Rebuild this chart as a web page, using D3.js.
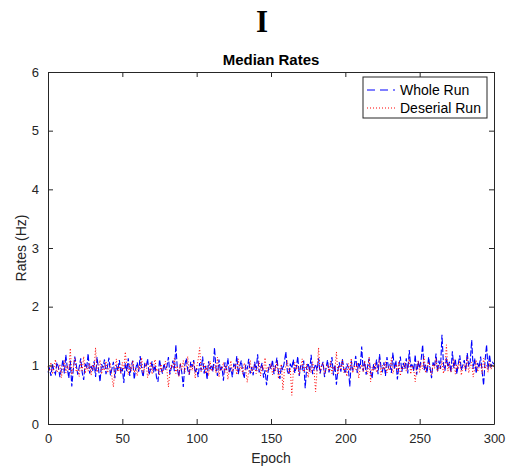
<!DOCTYPE html>
<html>
<head>
<meta charset="utf-8">
<script src="https://cdn.jsdelivr.net/npm/d3@7"></script>
<style>
  body { margin: 0; background: #fff; }
  text { font-family: "Liberation Sans", Arial, sans-serif; }
</style>
</head>
<body>
<div id="chart-area"></div>
<script>
// data (median rate per epoch)
var wholeRun = [
  0.88, 0.95, 0.82, 1.02, 0.91, 0.85, 1.05, 0.97, 0.80, 0.93,
  1.10, 0.86, 1.18, 0.95, 0.78, 1.08, 0.64, 0.92, 1.15, 1.01,
  0.84, 0.97, 1.12, 0.88, 0.75, 1.03, 0.95, 1.20, 0.86, 0.99,
  0.90, 1.07, 0.80, 1.14, 0.93, 0.72, 1.02, 0.96, 1.10, 0.85,
  0.98, 1.13, 0.83, 0.94, 1.06, 0.78, 1.00, 0.91, 1.09, 0.87,
  0.95, 0.70, 1.04, 0.90, 1.12, 0.82, 0.99, 1.08, 0.76, 0.94,
  1.05, 0.89, 1.16, 0.92, 0.80, 1.02, 0.97, 1.11, 0.84, 0.93,
  1.07, 0.88, 1.00, 0.79, 0.72, 1.10, 0.95, 0.86, 1.03, 0.92,
  0.98, 1.14, 0.85, 0.96, 1.08, 0.90, 1.35, 0.94, 0.81, 1.02,
  0.88, 0.63, 1.00, 1.12, 0.92, 0.84, 1.06, 0.97, 1.09, 0.87,
  0.95, 0.80, 1.04, 0.91, 1.15, 0.86, 0.99, 0.76, 1.07, 0.93,
  1.01, 0.89, 1.30, 0.95, 0.82, 1.10, 0.90, 0.98, 0.74, 1.05,
  0.92, 1.12, 0.87, 0.96, 0.80, 1.03, 0.94, 1.16, 0.85, 0.99,
  1.08, 0.90, 0.78, 1.01, 0.93, 1.11, 0.86, 0.97, 0.83, 1.06,
  0.91, 1.19, 0.88, 0.95, 1.04, 0.79, 0.92, 0.66, 0.89, 1.02,
  0.94, 1.09, 0.85, 0.98, 1.13, 0.88, 0.77, 1.00, 0.92, 1.06,
  1.23, 0.90, 0.84, 1.03, 0.95, 1.10, 0.87, 0.97, 1.15, 0.82,
  1.00, 0.93, 1.08, 0.61, 0.96, 1.04, 0.89, 1.18, 0.85, 0.94,
  1.02, 0.91, 1.12, 0.86, 0.98, 1.06, 0.80, 0.95, 1.09, 0.88,
  0.97, 1.14, 0.83, 1.01, 0.67, 0.92, 1.05, 0.89, 1.11, 0.94,
  0.86, 1.03, 0.96, 0.64, 1.08, 0.91, 1.00, 1.16, 0.87, 1.05,
  0.95, 1.32, 0.90, 1.07, 0.84, 0.99, 1.12, 0.88, 0.78, 1.02,
  0.93, 1.10, 0.85, 1.19, 0.97, 0.90, 1.05, 0.82, 1.14, 0.96,
  1.01, 0.87, 1.22, 0.93, 1.08, 0.76, 0.99, 1.15, 0.89, 1.04,
  0.94, 1.12, 0.86, 1.26, 0.97, 1.03, 0.90, 1.18, 0.84, 1.07,
  0.95, 1.10, 1.35, 0.92, 1.01, 0.87, 1.14, 0.96, 0.78, 1.05,
  0.98, 1.20, 0.89, 1.08, 0.94, 1.52, 1.02, 0.91, 1.13, 0.97,
  1.06, 0.88, 1.24, 0.95, 1.11, 0.85, 1.03, 1.17, 0.92, 1.00,
  1.09, 0.90, 1.21, 0.98, 1.06, 1.43, 0.94, 1.12, 0.86, 1.04,
  0.96, 1.15, 0.90, 0.66, 1.08, 1.35, 0.93, 1.18, 0.97, 1.05,
  1.02
];

var deserialRun = [
  0.98, 0.90, 1.05, 0.85, 0.96, 1.10, 0.88, 0.93, 1.02, 0.79,
  0.95, 1.08, 0.87, 1.00, 0.92, 1.29, 0.84, 0.97, 1.12, 0.89,
  0.94, 0.81, 1.06, 0.91, 1.15, 0.86, 0.99, 0.90, 1.04, 0.83,
  1.01, 0.93, 1.30, 0.88, 0.96, 1.09, 0.85, 0.98, 0.91, 1.07,
  0.87, 0.95, 1.03, 0.80, 0.63, 0.94, 1.11, 0.89, 0.99, 0.86,
  1.05, 0.92, 1.23, 0.97, 0.84, 1.02, 0.90, 1.08, 0.88, 0.95,
  0.82, 1.00, 0.93, 1.13, 0.87, 0.96, 1.04, 0.79, 0.91, 1.06,
  0.85, 0.98, 1.10, 0.90, 0.94, 0.83, 1.02, 0.88, 0.97, 1.07,
  0.92, 0.63, 0.89, 1.01, 0.95, 1.12, 0.86, 0.99, 0.81, 1.04,
  0.93, 1.08, 0.88, 0.97, 1.15, 0.84, 1.00, 0.91, 1.06, 0.78,
  0.96, 1.10, 1.30, 0.89, 0.94, 1.03, 0.86, 0.99, 0.82, 1.07,
  0.90, 0.95, 1.01, 0.87, 1.14, 0.80, 0.97, 0.92, 1.05, 0.88,
  1.00, 0.76, 0.93, 1.08, 0.89, 0.96, 1.02, 0.84, 1.11, 0.91,
  0.98, 0.85, 1.04, 0.94, 0.71, 0.90, 1.09, 0.87, 0.99, 1.01,
  0.86, 0.95, 1.07, 0.82, 1.00, 0.92, 1.13, 0.88, 0.97, 0.93,
  1.03, 0.84, 0.99, 0.90, 1.06, 0.77, 0.95, 1.02, 0.58, 0.91,
  0.98, 1.08, 0.86, 0.94, 0.49, 0.88, 1.05, 0.92, 1.00, 0.83,
  0.96, 1.11, 0.89, 0.94, 1.02, 0.79, 0.97, 0.87, 1.06, 0.91,
  0.55, 0.93, 1.30, 0.88, 0.99, 1.04, 0.85, 0.95, 1.01, 0.90,
  1.07, 0.86, 0.98, 0.92, 1.23, 0.84, 1.00, 0.94, 1.09, 0.88,
  0.96, 0.81, 1.03, 0.91, 1.12, 0.87, 0.99, 0.93, 1.05, 0.78,
  0.95, 1.01, 0.89, 1.08, 0.92, 0.85, 1.14, 0.72, 0.97, 0.90,
  1.04, 0.88, 0.96, 1.10, 0.84, 1.00, 0.93, 1.06, 0.87, 0.98,
  0.91, 1.13, 0.86, 0.95, 1.02, 0.89, 1.07, 0.82, 0.99, 0.94,
  1.05, 0.90, 0.97, 1.11, 0.85, 1.00, 0.93, 0.72, 0.96, 1.08,
  0.88, 1.03, 0.94, 1.15, 0.87, 0.99, 1.06, 0.91, 0.84, 1.02,
  0.95, 1.12, 0.89, 1.00, 0.93, 1.07, 0.86, 0.98, 1.35, 0.90,
  1.04, 0.88, 0.97, 1.10, 0.85, 1.01, 0.94, 1.08, 0.83, 0.96,
  1.02, 0.91, 1.14, 0.87, 0.99, 1.05, 0.80, 0.95, 1.09, 0.89,
  0.97, 1.03, 0.86, 1.12, 0.94, 1.00, 0.88, 1.07, 0.93, 1.01,
  0.96
];

var xTicks = [0, 50, 100, 150, 200, 250, 300];
var yTicks = [0, 1, 2, 3, 4, 5, 6];
var seriesNames = ["Whole Run", "Deserial Run"];

var width = 506;
var height = 469;
var margin = { left: 48, right: 12, top: 72, bottom: 45 };
var innerW = width - margin.left - margin.right;
var innerH = height - margin.top - margin.bottom;
var axisColor = "#262626";

var svg = d3.select("#chart-area").append("svg")
	.attr("width", width)
	.attr("height", height);

var g = svg.append("g")
	.attr("transform", "translate(" + margin.left + ", " + margin.top + ")");

// Scales
var x = d3.scaleLinear().domain([0, 300]).range([0, innerW]);
var y = d3.scaleLinear().domain([0, 6]).range([innerH, 0]);

// lines
var line = d3.line()
	.x((d, i) => x(i))
	.y((d) => y(d));

g.append("path")
	.datum(wholeRun)
	.attr("fill", "none")
	.attr("stroke", "#0000ff")
	.attr("stroke-width", 1.1)
	.attr("stroke-dasharray", "6,2")
	.attr("d", line);

g.append("path")
	.datum(deserialRun)
	.attr("fill", "none")
	.attr("stroke", "#ff0000")
	.attr("stroke-width", 1)
	.attr("stroke-dasharray", "1,2")
	.attr("d", line);

// Axes (box with inward ticks on all sides)
function styleAxis(sel) {
	sel.selectAll("path").attr("stroke", axisColor).attr("stroke-width", 1);
	sel.selectAll("line").attr("stroke", axisColor);
	sel.selectAll("text")
		.attr("fill", axisColor)
		.style("font-size", "13px")
		.style("font-family", "'Liberation Sans', Arial, sans-serif");
}

g.append("g")
	.attr("transform", "translate(0, " + innerH + ")")
	.call(d3.axisBottom(x).tickValues(xTicks).tickSizeInner(-5).tickSizeOuter(0).tickPadding(10))
	.call(styleAxis);

g.append("g")
	.call(d3.axisLeft(y).tickValues(yTicks).tickFormat(d3.format("d")).tickSizeInner(-5).tickSizeOuter(0).tickPadding(9))
	.call(styleAxis);

g.append("g")
	.call(d3.axisTop(x).tickValues(xTicks).tickSizeInner(-5).tickSizeOuter(0).tickFormat(""))
	.call(styleAxis);

g.append("g")
	.attr("transform", "translate(" + innerW + ", 0)")
	.call(d3.axisRight(y).tickValues(yTicks).tickSizeInner(-5).tickSizeOuter(0).tickFormat(""))
	.call(styleAxis);

// labels
g.append("text")
	.attr("x", innerW / 2)
	.attr("y", innerH + 39)
	.attr("text-anchor", "middle")
	.attr("fill", axisColor)
	.style("font-size", "14px")
	.text("Epoch");

g.append("text")
	.attr("transform", "rotate(-90)")
	.attr("x", -innerH / 2)
	.attr("y", -22)
	.attr("text-anchor", "middle")
	.attr("fill", axisColor)
	.style("font-size", "14px")
	.text("Rates (Hz)");

g.append("text")
	.attr("x", innerW / 2)
	.attr("y", -7)
	.attr("text-anchor", "middle")
	.style("font-size", "15px")
	.style("font-weight", "bold")
	.text("Median Rates");

svg.append("text")
	.attr("x", 262)
	.attr("y", 32)
	.attr("text-anchor", "middle")
	.style("font-family", "'Liberation Serif', 'Times New Roman', serif")
	.style("font-size", "31px")
	.style("font-weight", "bold")
	.text("I");

// legend
var legend = svg.append("g")
	.attr("transform", "translate(363, 77)");

legend.append("rect")
	.attr("width", 124)
	.attr("height", 41)
	.attr("fill", "#fff")
	.attr("stroke", axisColor)
	.attr("stroke-width", 1);

var legendStyles = [
	{ color: "#0000ff", dash: "8,5" },
	{ color: "#ff0000", dash: "1,2" }
];

seriesNames.forEach((name, i) => {
	var row = legend.append("g")
		.attr("transform", "translate(0, " + (13 + i * 18) + ")");

	row.append("line")
		.attr("x1", 4)
		.attr("x2", 32)
		.attr("stroke", legendStyles[i].color)
		.attr("stroke-width", 1)
		.attr("stroke-dasharray", legendStyles[i].dash);

	row.append("text")
		.attr("x", 37)
		.attr("y", 5)
		.attr("fill", "#000")
		.style("font-size", "14px")
		.text(name);
});
</script>
</body>
</html>
